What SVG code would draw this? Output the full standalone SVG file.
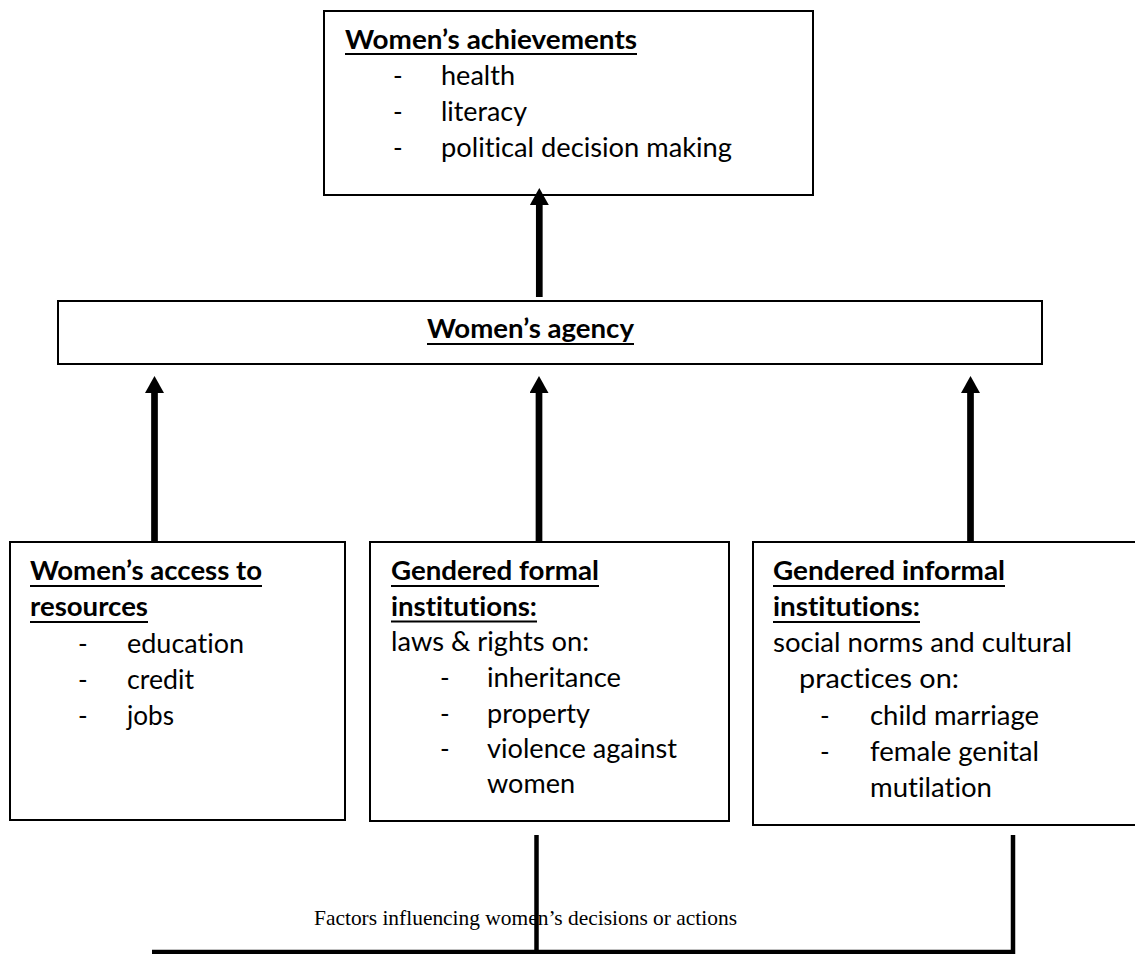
<svg xmlns="http://www.w3.org/2000/svg" width="1135" height="954" viewBox="0 0 1135 954">
<style>
.box{fill:#fff;stroke:#000;stroke-width:2}
.t{font-family:Lato,"Open Sans","Liberation Sans",sans-serif;font-size:26px;fill:#000;font-variant-ligatures:none}
.b{font-weight:bold}
.ul{stroke:#000;stroke-width:2.2}
.arr{stroke:#000;stroke-width:6.7;fill:none}
.ln{stroke:#000;stroke-width:4.5;fill:none}
.cap{font-family:"Liberation Serif","Times New Roman",serif;font-size:21px;fill:#000}
</style>
<defs>
<marker id="ah" viewBox="0 0 17 19" refX="1" refY="9.5" markerWidth="17" markerHeight="19" markerUnits="userSpaceOnUse" orient="auto">
<path d="M0,0 L17,9.5 L0,19 Z" fill="#000"/>
</marker>
</defs>
<rect width="1135" height="954" fill="#fff"/>

<g id="achievements">
<rect class="box" x="324" y="11" width="489" height="184"/>
<text class="t b" x="345" y="49" textLength="292" lengthAdjust="spacingAndGlyphs">Women’s achievements</text>
<line class="ul" x1="345" y1="54" x2="637" y2="54"/>
<text class="t" x="393" y="85">-</text>
<text class="t" x="441" y="85" textLength="74" lengthAdjust="spacingAndGlyphs">health</text>
<text class="t" x="393" y="121">-</text>
<text class="t" x="441" y="121" textLength="86" lengthAdjust="spacingAndGlyphs">literacy</text>
<text class="t" x="393" y="157">-</text>
<text class="t" x="441" y="157" textLength="291" lengthAdjust="spacingAndGlyphs">political decision making</text>
</g>

<g id="agency">
<rect class="box" x="58" y="301" width="984" height="63"/>
<text class="t b" x="427" y="338" textLength="207" lengthAdjust="spacingAndGlyphs">Women’s agency</text>
<line class="ul" x1="427" y1="344" x2="634" y2="344"/>
</g>

<g id="resources">
<rect class="box" x="10" y="542" width="335" height="278"/>
<text class="t b" x="30" y="580" textLength="232" lengthAdjust="spacingAndGlyphs">Women’s access to</text>
<line class="ul" x1="30" y1="586" x2="262" y2="586"/>
<text class="t b" x="30" y="616" textLength="118" lengthAdjust="spacingAndGlyphs">resources</text>
<line class="ul" x1="30" y1="622" x2="148" y2="622"/>
<text class="t" x="78" y="653">-</text>
<text class="t" x="127" y="653" textLength="117" lengthAdjust="spacingAndGlyphs">education</text>
<text class="t" x="78" y="689">-</text>
<text class="t" x="127" y="689" textLength="67" lengthAdjust="spacingAndGlyphs">credit</text>
<text class="t" x="78" y="725">-</text>
<text class="t" x="127" y="725" textLength="47" lengthAdjust="spacingAndGlyphs">jobs</text>
</g>

<g id="formal">
<rect class="box" x="370" y="542" width="359" height="279"/>
<text class="t b" x="391" y="580" textLength="208" lengthAdjust="spacingAndGlyphs">Gendered formal</text>
<line class="ul" x1="391" y1="586" x2="599" y2="586"/>
<text class="t b" x="391" y="615.5" textLength="146" lengthAdjust="spacingAndGlyphs">institutions:</text>
<line class="ul" x1="391" y1="621.5" x2="537" y2="621.5"/>
<text class="t" x="391" y="651" textLength="198" lengthAdjust="spacingAndGlyphs">laws &amp; rights on:</text>
<text class="t" x="440" y="687">-</text>
<text class="t" x="487" y="687" textLength="134" lengthAdjust="spacingAndGlyphs">inheritance</text>
<text class="t" x="440" y="722.5">-</text>
<text class="t" x="487" y="722.5" textLength="103" lengthAdjust="spacingAndGlyphs">property</text>
<text class="t" x="440" y="758">-</text>
<text class="t" x="487" y="758" textLength="190" lengthAdjust="spacingAndGlyphs">violence against</text>
<text class="t" x="487" y="793" textLength="88" lengthAdjust="spacingAndGlyphs">women</text>
</g>

<g id="informal">
<rect class="box" x="753" y="542" width="390" height="283"/>
<text class="t b" x="773" y="580" textLength="232" lengthAdjust="spacingAndGlyphs">Gendered informal</text>
<line class="ul" x1="773" y1="586" x2="1005" y2="586"/>
<text class="t b" x="773" y="616" textLength="147" lengthAdjust="spacingAndGlyphs">institutions:</text>
<line class="ul" x1="773" y1="622" x2="920" y2="622"/>
<text class="t" x="773" y="652" textLength="299" lengthAdjust="spacingAndGlyphs">social norms and cultural</text>
<text class="t" x="799" y="688" textLength="160" lengthAdjust="spacingAndGlyphs">practices on:</text>
<text class="t" x="820" y="725">-</text>
<text class="t" x="870" y="725" textLength="169" lengthAdjust="spacingAndGlyphs">child marriage</text>
<text class="t" x="820" y="761">-</text>
<text class="t" x="870" y="761" textLength="169" lengthAdjust="spacingAndGlyphs">female genital</text>
<text class="t" x="870" y="797" textLength="122" lengthAdjust="spacingAndGlyphs">mutilation</text>
</g>

<g id="connectors">
<line class="arr" x1="539.3" y1="297" x2="539.3" y2="204" marker-end="url(#ah)"/>
<line class="arr" x1="154.5" y1="542" x2="154.5" y2="392" marker-end="url(#ah)"/>
<line class="arr" x1="539" y1="542" x2="539" y2="392" marker-end="url(#ah)"/>
<line class="arr" x1="970.5" y1="542" x2="970.5" y2="392" marker-end="url(#ah)"/>
<line class="ln" x1="536.5" y1="835" x2="536.5" y2="954"/>
<line class="ln" x1="1013" y1="835" x2="1013" y2="954"/>
<line class="ln" x1="152" y1="952" x2="1015" y2="952"/>
</g>

<text class="cap" x="314" y="925" textLength="423" lengthAdjust="spacingAndGlyphs">Factors influencing women’s decisions or actions</text>
</svg>
